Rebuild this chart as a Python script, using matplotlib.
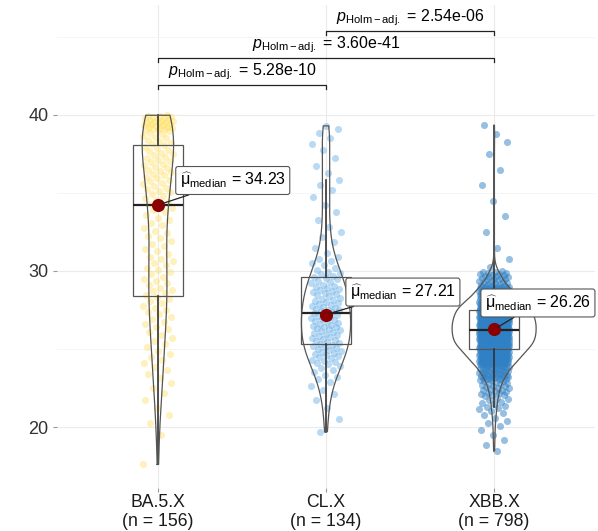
import numpy as np
import matplotlib
matplotlib.use("Agg")
import matplotlib.pyplot as plt

plt.rcParams['font.family'] = ['Liberation Sans', 'DejaVu Sans']
plt.rcParams['mathtext.fontset'] = 'custom'
plt.rcParams['mathtext.rm'] = 'Liberation Sans'
plt.rcParams['mathtext.it'] = 'Liberation Sans:italic'

# --- data ------------------------------------------------------------------
groups = ['BA.5.X', 'CL.X', 'XBB.X']
n_obs = [156, 134, 798]
medians = [34.23, 27.21, 26.26]
colors = ['#FFDD55', '#66AEE6', '#2F80C4']

# values as histograms: bin edges and count of observations per bin
ba_edges = [17.2, 18, 19, 20, 21, 22, 23, 24, 25, 26, 27, 28, 29, 30, 31, 32,
            33, 34, 35, 36, 37, 38, 39, 40]
ba_counts = [1, 0, 1, 2, 2, 3, 4, 5, 5, 6, 7, 8, 7, 7, 6, 6, 6, 8, 10, 11, 11,
             11, 29]
cl_edges = [19.4, 20, 21, 22, 23, 24, 25, 26, 27, 28, 29, 30, 31, 32, 33, 34,
            35, 36, 37, 38, 39, 39.4]
cl_counts = [1, 1, 2, 4, 7, 14, 16, 17, 16, 15, 12, 7, 3, 3, 2, 2, 3, 2, 2,
             3, 2]
xbb_edges = [18.3, 19, 20, 21, 22, 23, 24, 25, 26, 27, 28, 29, 30, 31, 32, 33,
             34, 35, 36, 37, 38, 39, 39.7]
xbb_counts = [2, 3, 6, 12, 22, 50, 105, 160, 165, 150, 80, 31, 2, 1, 1, 1, 1,
              1, 1, 1, 2, 1]

# pairwise comparisons (Holm adjusted)
pairs = [(0, 1), (0, 2), (1, 2)]
p_labels = ['5.28e-10', '3.60e-41', '2.54e-06']
bracket_y = [41.9, 43.65, 45.4]


def expand(edges, counts):
    vals = []
    for lo, hi, c in zip(edges[:-1], edges[1:], counts):
        if c:
            vals.extend(lo + (np.arange(c) + 0.5) / c * (hi - lo))
    return np.array(vals)


def nrd0(v):
    iqr = np.subtract(*np.percentile(v, [75, 25]))
    return 0.9 * min(np.std(v, ddof=1), iqr / 1.34) * len(v) ** -0.2


data = [expand(ba_edges, ba_counts), expand(cl_edges, cl_counts),
        expand(xbb_edges, xbb_counts)]

fig = plt.figure(figsize=(5.98, 5.31), dpi=100)
ax = fig.add_axes([57 / 598, 43 / 531, 538 / 598, 483 / 531])

# jittered points
golden = 0.6180339887
alphas = [0.4, 0.45, 0.5]
for i, v in enumerate(data):
    k = np.arange(len(v))
    jit = ((k * golden + 0.3 * i) % 1.0 - 0.5) * 0.18
    ax.scatter(i + 1 + jit, v, s=26, color=colors[i], alpha=alphas[i],
               linewidths=0, zorder=2)

# boxplots
ax.boxplot(data, positions=[1, 2, 3], widths=0.3, showfliers=False,
           showcaps=False, patch_artist=True, manage_ticks=False,
           boxprops=dict(facecolor='none', edgecolor='#555555', lw=0.9),
           whiskerprops=dict(color='#333333', lw=1.2),
           medianprops=dict(color='#222222', lw=1.6), zorder=3)

# violins (area scaled, trimmed)
dens = []
for v in data:
    bw = nrd0(v)
    grid = np.linspace(v.min(), v.max(), 512)
    d = np.exp(-0.5 * ((grid[:, None] - v[None, :]) / bw) ** 2).sum(1)
    d = d / (len(v) * bw * np.sqrt(2 * np.pi))
    dens.append((grid, d))
dmax = max(d.max() for _, d in dens)
for i, (grid, d) in enumerate(dens):
    w = 0.25 * d / dmax
    xs = np.concatenate([i + 1 - w, (i + 1 + w)[::-1], [i + 1 - w[0]]])
    ys = np.concatenate([grid, grid[::-1], [grid[0]]])
    ax.plot(xs, ys, color='#555555', lw=0.9, zorder=4)

# median points and labels
label_pos = [(1.13, 35.8), (2.142, 28.65), (2.945, 27.95)]
for i, m in enumerate(medians):
    ax.scatter([i + 1], [m], s=90, color='#8B0000', zorder=6, linewidths=0)
    ax.annotate(r'$\widehat{\mathrm{\mu}}_{\mathrm{median}}$ = %.2f' % m,
                xy=(i + 1, m), xytext=label_pos[i], ha='left', va='center',
                fontsize=11.5, zorder=7,
                bbox=dict(boxstyle='round,pad=0.25,rounding_size=0.15',
                          fc='white', ec='#555555', lw=0.8),
                arrowprops=dict(arrowstyle='-', color='#222222', lw=0.9,
                                shrinkA=0, shrinkB=3))

# significance brackets
for (a, b), lab, y in zip(pairs, p_labels, bracket_y):
    ax.plot([a + 1, a + 1, b + 1, b + 1], [y - 0.25, y, y, y - 0.25],
            color='#222222', lw=0.9, zorder=5)
    ax.text((a + b) / 2 + 1, y + 0.2,
            r'$p_{\mathrm{Holm-adj.}}$ = ' + lab, ha='center', va='bottom',
            fontsize=11.5)

ax.set_xlim(0.4, 3.6)
ax.set_ylim(16.09, 47.05)

# grid and ticks
ax.set_yticks([20, 30, 40])
ax.set_yticks([25, 35, 45], minor=True)
ax.set_xticks([1, 2, 3])
ax.set_xticklabels(['%s\n(n = %d)' % (g, n) for g, n in zip(groups, n_obs)],
                   fontsize=12.7, color='#1A1A1A', linespacing=1.1)
ax.grid(True, which='major', color='#EBEBEB', lw=0.8)
ax.grid(True, which='minor', axis='y', color='#F4F4F4', lw=0.6)
ax.set_axisbelow(True)
for s in ax.spines.values():
    s.set_visible(False)
ax.tick_params(axis='x', length=3, color='#999999', pad=1.5)
ax.tick_params(axis='y', which='major', length=3, color='#999999',
               labelsize=13, labelcolor='#333333', pad=3)
ax.tick_params(axis='y', which='minor', length=0)

fig.savefig('out.png', dpi=100)
